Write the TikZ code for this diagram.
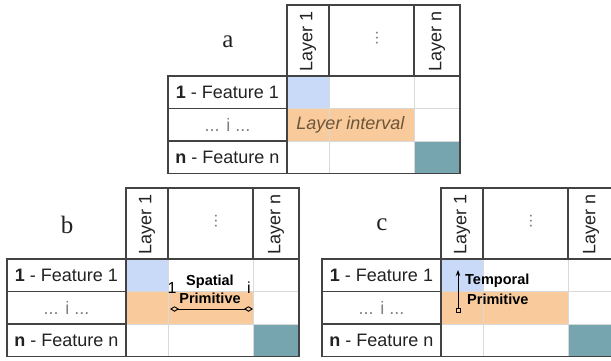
\documentclass[tikz,border=0pt]{standalone}
\usepackage{fontspec}
\setmainfont{Liberation Sans}
\newfontfamily\panelfont{Liberation Serif}
\usetikzlibrary{arrows.meta}
\definecolor{framegray}{HTML}{434343}
\definecolor{gridgray}{HTML}{D9D9D9}
\definecolor{textdark}{HTML}{222222}
\definecolor{softgray}{HTML}{808080}
\definecolor{cellblue}{HTML}{C9DAF8}
\definecolor{cellorange}{HTML}{F9CB9C}
\definecolor{cellteal}{HTML}{76A5AF}
\definecolor{intervaltext}{HTML}{6E5438}

\begin{document}
\begin{tikzpicture}[x=1pt,y=-1pt,
  frameline/.style={draw=framegray,line width=1.3pt},
  gridline/.style={draw=gridgray,line width=0.9pt},
  tabletext/.style={font=\fontsize{18}{21}\selectfont,text=textdark,inner sep=0pt},
  headtext/.style={tabletext,rotate=90},
  paneltext/.style={font=\panelfont\fontsize{25}{28}\selectfont,text=textdark,inner sep=0pt},
  primtext/.style={font=\bfseries\fontsize{14.5}{16}\selectfont,text=black,inner sep=0pt},
  primline/.style={draw=black,line width=0.9pt}]
\clip (0,0) rectangle (611,360);
\foreach \ox/\oy/\lab in {168/76/a,7/259/b,322/259/c}{
  \begin{scope}[shift={(\ox,\oy)}]
    \fill[cellblue] (119,0) rectangle (161,32.5);
    \fill[cellorange] (119,32.5) rectangle (246,65);
    \fill[cellteal] (246,65) rectangle (292,97.5);
    \draw[gridline] (161,0) -- (161,97.5) (246,0) -- (246,97.5)
      (119,32.5) -- (292,32.5) (119,65) -- (292,65);
    \draw[frameline] (0,0) rectangle (292,97.5);
    \draw[frameline] (119,-71) rectangle (292,0);
    \draw[frameline] (161,-71) -- (161,0) (246,-71) -- (246,0);
    \draw[frameline] (119,0) -- (119,97.5);
    \draw[frameline] (0,32.5) -- (119,32.5) (0,65) -- (119,65);
    \node[paneltext] (\lab-title) at (60,-34) {\lab};
    \node[headtext] (\lab-layer1) at (140,-35) {Layer 1};
    \node[headtext,font=\fontsize{17}{19}\selectfont,text=softgray] (\lab-dots) at (209,-38) {...};
    \node[headtext] (\lab-layern) at (269,-35) {Layer n};
    \node[tabletext] (\lab-row1) at (59.5,16.25) {\textbf{1} - Feature 1};
    \node[tabletext,text=softgray] (\lab-rowi) at (59.5,48.75) {... i ...};
    \node[tabletext] (\lab-rown) at (59.5,81.25) {\textbf{n} - Feature n};
  \end{scope}
}
% a
\node[tabletext,font=\itshape\fontsize{18}{21}\selectfont,text=intervaltext] (a-interval) at (350.5,124.75) {Layer interval};
% b
\node[tabletext,font=\fontsize{16}{18}\selectfont,text=black] (b-first) at (172,288) {1};
\node[tabletext,font=\fontsize{16}{18}\selectfont,text=black] (b-last) at (249,288) {i};
\node[primtext] (b-spatial) at (210,282) {Spatial};
\node[primtext] (b-primitive) at (210,298) {Primitive};
\coordinate (b-sp-left) at (170,309);
\coordinate (b-sp-right) at (253,309);
\path[primline,{Diamond[open,length=9pt,width=5.5pt]}-{Diamond[open,length=9pt,width=5.5pt]}] (b-sp-left) -- (b-sp-right);
% c
\coordinate (c-tp-start) at (458,313);
\coordinate (c-tp-end) at (458,270);
\path[primline,{Square[open,length=5pt,width=5pt]}-{Stealth[length=6pt,width=4.5pt]}] (c-tp-start) -- (c-tp-end);
\node[primtext,anchor=west] (c-temporal) at (465,281) {Temporal};
\node[primtext,anchor=west] (c-primitive) at (467,299) {Primitive};
\end{tikzpicture}
\end{document}
